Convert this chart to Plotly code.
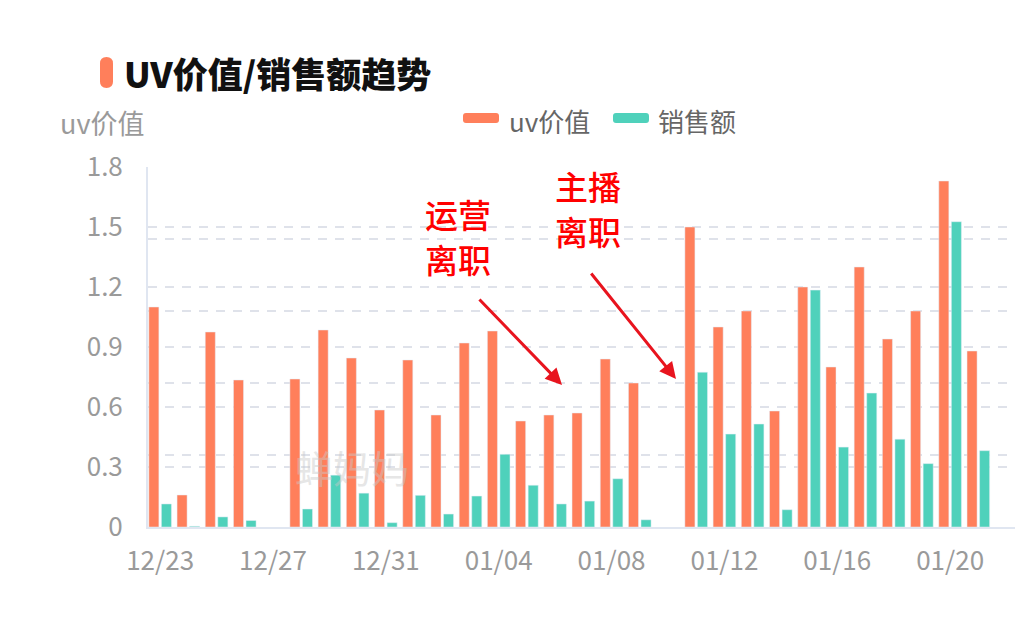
import plotly.graph_objects as go

# ---------------- data ----------------
dates = ["12/23", "12/24", "12/25", "12/26", "12/27", "12/28", "12/29", "12/30", "12/31",
         "01/01", "01/02", "01/03", "01/04", "01/05", "01/06", "01/07", "01/08", "01/09",
         "01/10", "01/11", "01/12", "01/13", "01/14", "01/15", "01/16", "01/17", "01/18",
         "01/19", "01/20", "01/21"]
uv_value = [1.10, 0.16, 0.975, 0.735, None, 0.74, 0.985, 0.845, 0.585,
            0.835, 0.56, 0.92, 0.98, 0.53, 0.56, 0.57, 0.84, 0.72,
            None, 1.50, 1.00, 1.08, 0.58, 1.20, 0.80, 1.30, 0.94,
            1.08, 1.73, 0.88]
# sales plotted on a hidden secondary axis (0-5 scale)
sales = [0.32, 0.01, 0.14, 0.09, None, 0.25, 0.72, 0.47, 0.06,
         0.44, 0.18, 0.43, 1.01, 0.58, 0.32, 0.36, 0.67, 0.10,
         None, 2.15, 1.29, 1.43, 0.24, 3.29, 1.11, 1.86, 1.22,
         0.88, 4.24, 1.06]
x_ticks = dates[::4]
y_ticks = [0, 0.3, 0.6, 0.9, 1.2, 1.5, 1.8]
y_tick_text = ["0", "0.3", "0.6", "0.9", "1.2", "1.5", "1.8"]

ORANGE = "#FF7F5B"
TEAL = "#4FD1BB"
FONT = "Noto Sans CJK SC"

W, H = 1018, 633
L, R, T, B = 148, 3, 167, 106
PW, PH = W - L - R, H - T - B


def px(x):
    return (x - L) / PW


def py(y):
    return (H - B - y) / PH


def rounded_path(x0, y0, x1, y1, r):
    pts = [
        ("M", [(x0 + r, y0)]), ("L", [(x1 - r, y0)]), ("Q", [(x1, y0), (x1, y0 + r)]),
        ("L", [(x1, y1 - r)]), ("Q", [(x1, y1), (x1 - r, y1)]),
        ("L", [(x0 + r, y1)]), ("Q", [(x0, y1), (x0, y1 - r)]),
        ("L", [(x0, y0 + r)]), ("Q", [(x0, y0), (x0 + r, y0)]),
    ]
    s = ""
    for cmd, ps in pts:
        s += cmd + " " + " ".join(f"{px(a):.5f},{py(b):.5f}" for a, b in ps) + " "
    return s + "Z"


fig = go.Figure()
fig.add_trace(go.Bar(x=dates, y=uv_value, name="uv价值", marker_color=ORANGE,
                     offsetgroup="uv", yaxis="y", showlegend=False))
fig.add_trace(go.Bar(x=dates, y=sales, name="销售额", marker_color=TEAL,
                     offsetgroup="sales", yaxis="y2", showlegend=False))

grid_col = "#DFE2EA"
fig.update_layout(
    width=W, height=H,
    margin=dict(l=L, r=R, t=T, b=B),
    paper_bgcolor="white", plot_bgcolor="white",
    barmode="group", bargap=0.11, bargroupgap=0.2,
    font=dict(family=FONT, color="#999999"),
    xaxis=dict(type="category", range=[-0.43, 30.3], tickvals=x_ticks, ticktext=x_ticks,
               showgrid=False, showline=True, linecolor="#E0E6F1", linewidth=2,
               ticks="", tickfont=dict(size=26, color="#9A9A9A", family=FONT),
               ticklabelstandoff=10, zeroline=False),
    yaxis=dict(range=[0, 1.8], tickvals=y_ticks, ticktext=y_tick_text,
               showgrid=True, gridcolor=grid_col, griddash="9px,8px", gridwidth=1.5,
               showline=True, linecolor="#E0E6F1", linewidth=2, zeroline=False,
               tickfont=dict(size=26, color="#9A9A9A", family=FONT),
               ticklabelstandoff=18),
    yaxis2=dict(range=[0, 5], dtick=1, overlaying="y", side="right",
                showgrid=True, gridcolor=grid_col, griddash="9px,8px", gridwidth=1.5,
                showticklabels=False, zeroline=False, showline=False),
)

anns = []
# title
anns.append(dict(xref="paper", yref="paper", x=px(122), y=py(72), xanchor="left", yanchor="middle",
                 text="UV价值/销售额趋势", showarrow=False,
                 font=dict(family=FONT, size=35, color="#111111", weight=900)))
# y axis title
anns.append(dict(xref="paper", yref="paper", x=px(146), y=py(122), xanchor="right", yanchor="middle",
                 text="uv价值", showarrow=False, font=dict(family=FONT, size=27, color="#9A9A9A")))
# legend texts
anns.append(dict(xref="paper", yref="paper", x=px(507), y=py(120), xanchor="left", yanchor="middle",
                 text="uv价值", showarrow=False, font=dict(family=FONT, size=26, color="#666666")))
anns.append(dict(xref="paper", yref="paper", x=px(656), y=py(120), xanchor="left", yanchor="middle",
                 text="销售额", showarrow=False, font=dict(family=FONT, size=26, color="#666666")))
# watermark
anns.append(dict(xref="paper", yref="paper", x=px(352), y=py(466), xanchor="center", yanchor="middle",
                 text="蝉妈妈", showarrow=False, opacity=0.45,
                 font=dict(family=FONT, size=38, color="#C8C8C8")))
# red notes (one annotation per line)
note_font = dict(family=FONT, size=33, color="#FF0000", weight=500)
for txt, cx, cy in [("运营", 458, 214), ("离职", 458, 259), ("主播", 588, 186), ("离职", 588, 231)]:
    anns.append(dict(xref="paper", yref="paper", x=px(cx), y=py(cy), xanchor="center",
                     yanchor="middle", text=txt, showarrow=False, font=note_font))
# arrows
anns.append(dict(xref="paper", yref="paper", x=px(562), y=py(385), ax=478 - 562, ay=298 - 385,
                 text="", showarrow=True, arrowhead=2, arrowsize=1.1, arrowwidth=3,
                 arrowcolor="#E8141E"))
anns.append(dict(xref="paper", yref="paper", x=px(676), y=py(379), ax=590 - 676, ay=272 - 379,
                 text="", showarrow=True, arrowhead=2, arrowsize=1.1, arrowwidth=3,
                 arrowcolor="#E8141E"))
fig.update_layout(annotations=anns)

shapes = [
    dict(type="path", xref="paper", yref="paper", path=rounded_path(100, 57, 113, 88, 6.5),
         fillcolor=ORANGE, line=dict(width=0)),
    dict(type="path", xref="paper", yref="paper", path=rounded_path(463, 113, 499, 123, 3),
         fillcolor=ORANGE, line=dict(width=0)),
    dict(type="path", xref="paper", yref="paper", path=rounded_path(613, 113, 649, 123, 3),
         fillcolor=TEAL, line=dict(width=0)),
]
fig.update_layout(shapes=shapes)

fig.write_html("out.html")
